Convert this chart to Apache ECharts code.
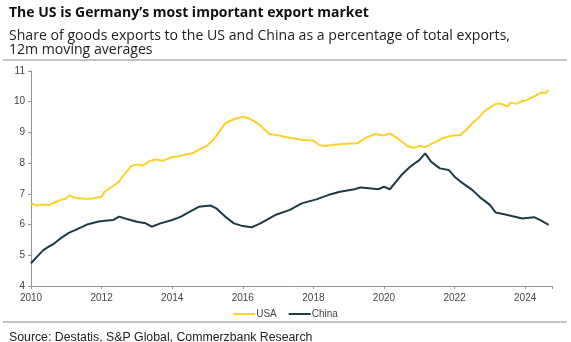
<!DOCTYPE html>
<html><head><meta charset="utf-8">
<script src="https://cdn.jsdelivr.net/npm/echarts@6/dist/echarts.min.js"></script>
<style>html,body{margin:0;padding:0;background:#fff}#c{width:571px;height:342px}</style>
</head><body><div id="c"></div>
<script>
const yTicks = [4,5,6,7,8,9,10,11];
const xTickYears = [2010,2012,2014,2016,2018,2020,2022,2024];
const usaMonths = ['2010-01','2010-03','2010-05','2010-07','2010-09','2010-11','2011-01','2011-02','2011-04','2011-07','2011-10','2011-11','2012-01','2012-02','2012-04','2012-07','2012-08','2012-10','2012-11','2013-01','2013-03','2013-05','2013-07','2013-10','2014-01','2014-03','2014-05','2014-08','2014-10','2015-01','2015-03','2015-05','2015-07','2015-10','2016-01','2016-03','2016-05','2016-07','2016-09','2016-10','2017-02','2017-03','2017-06','2017-09','2018-01','2018-03','2018-05','2018-08','2018-12','2019-04','2019-07','2019-10','2020-01','2020-03','2020-06','2020-09','2020-11','2021-01','2021-03','2021-05','2021-09','2021-12','2022-03','2022-05','2022-07','2022-09','2022-11','2023-03','2023-05','2023-07','2023-08','2023-10','2023-12','2024-01','2024-03','2024-06','2024-08','2024-09'];
const usaValues = [6.69,6.62,6.65,6.63,6.72,6.8,6.85,6.95,6.87,6.84,6.85,6.87,6.9,7.07,7.2,7.4,7.55,7.78,7.9,7.96,7.92,8.05,8.12,8.08,8.2,8.22,8.27,8.32,8.43,8.58,8.76,9.02,9.3,9.43,9.51,9.46,9.36,9.22,9.05,8.95,8.89,8.86,8.81,8.76,8.73,8.59,8.56,8.6,8.63,8.65,8.83,8.95,8.9,8.97,8.78,8.56,8.5,8.56,8.52,8.62,8.81,8.89,8.92,9.08,9.3,9.46,9.68,9.93,9.93,9.84,9.97,9.93,10.03,10.03,10.12,10.28,10.28,10.38];
const chinaMonths = ['2010-01','2010-03','2010-05','2010-07','2010-09','2010-11','2011-02','2011-04','2011-06','2011-08','2011-12','2012-03','2012-05','2012-07','2012-09','2013-01','2013-04','2013-06','2013-09','2014-01','2014-04','2014-07','2014-10','2015-02','2015-04','2015-07','2015-10','2016-01','2016-04','2016-07','2016-12','2017-05','2017-09','2018-02','2018-06','2018-10','2019-03','2019-05','2019-08','2019-11','2020-01','2020-03','2020-07','2020-10','2021-01','2021-03','2021-05','2021-08','2021-11','2022-01','2022-03','2022-07','2022-10','2023-01','2023-03','2023-07','2023-12','2024-04','2024-06','2024-09'];
const chinaValues = [4.74,4.95,5.15,5.28,5.39,5.55,5.74,5.82,5.91,6.0,6.1,6.13,6.15,6.26,6.2,6.09,6.04,5.93,6.04,6.15,6.26,6.42,6.58,6.62,6.53,6.26,6.04,5.95,5.91,6.04,6.31,6.48,6.69,6.82,6.96,7.07,7.15,7.21,7.18,7.15,7.23,7.15,7.62,7.89,8.1,8.32,8.05,7.83,7.78,7.56,7.4,7.13,6.86,6.64,6.39,6.31,6.2,6.24,6.15,5.99];

function toYear(m){const p=m.split('-');return +p[0]+(+p[1]-1)/12;}
function pairs(ms,vs){return ms.map((m,i)=>[toYear(m),vs[i]]);}

const chart = echarts.init(document.getElementById('c'),null,{renderer:'canvas'});
const font = '"Liberation Sans", Arial, sans-serif';
const wide = '"Open Sans", "Liberation Sans", sans-serif';
chart.setOption({
  animation:false,
  backgroundColor:'#fff',
  title:[
    {text:'The US is Germany\u2019s most important export market',left:4,top:1,textStyle:{fontFamily:wide,fontSize:14,fontWeight:'bold',color:'#111'}},
    {text:'Share of goods exports to the US and China as a percentage of total exports,\n12m moving averages',left:4,top:24,textStyle:{fontFamily:wide,fontSize:14.1,fontWeight:'normal',color:'#222',lineHeight:14}},
    {text:'Source: Destatis, S&P Global, Commerzbank Research',left:4,top:327,textStyle:{fontFamily:font,fontSize:12.3,fontWeight:'normal',color:'#222'}}
  ],
  graphic:[
    {type:'line',shape:{x1:3,y1:60,x2:567,y2:60},style:{stroke:'#c4c4c4',lineWidth:2}},
    {type:'line',shape:{x1:3,y1:322,x2:567,y2:322},style:{stroke:'#c4c4c4',lineWidth:2}}
  ],
  grid:{left:31,right:19,top:71,bottom:56},
  legend:{
    data:['USA','China'],left:'center',top:304,itemWidth:22,itemHeight:2,itemGap:12,
    icon:'rect',
    textStyle:{fontFamily:font,fontSize:10,color:'#444',padding:[0,0,0,-4]}
  },
  xAxis:{type:'value',min:2010,max:2024.76,interval:2,
    axisLine:{lineStyle:{color:'#8c979c',width:1}},
    axisTick:{show:true,length:3,lineStyle:{color:'#8c979c'}},
    axisLabel:{fontFamily:font,fontSize:10,color:'#444',margin:7,formatter:v=>xTickYears.includes(v)?String(v):''},
    splitLine:{show:false}},
  yAxis:{type:'value',min:4,max:11,interval:1,
    axisLine:{show:true,lineStyle:{color:'#8c979c',width:1}},
    axisTick:{show:true,length:3,lineStyle:{color:'#8c979c'}},
    axisLabel:{fontFamily:font,fontSize:10,color:'#444',margin:6,formatter:v=>yTicks.includes(v)?String(v):''},
    splitLine:{show:false}},
  series:[
    {name:'USA',type:'line',data:pairs(usaMonths,usaValues),showSymbol:false,lineStyle:{color:'#FCD12A',width:2},itemStyle:{color:'#FCD12A'}},
    {name:'China',type:'line',data:pairs(chinaMonths,chinaValues),showSymbol:false,lineStyle:{color:'#1D3A46',width:2},itemStyle:{color:'#1D3A46'}}
  ]
});
</script></body></html>
